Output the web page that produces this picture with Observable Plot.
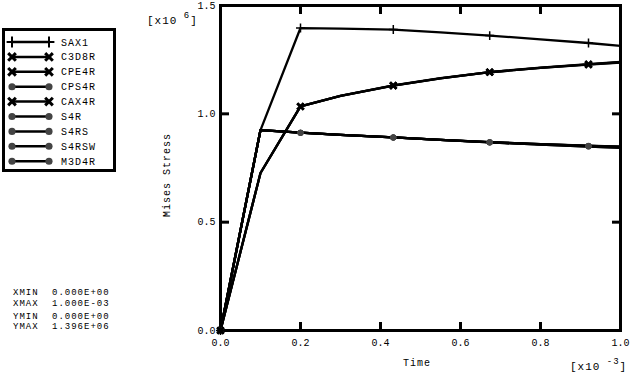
<!DOCTYPE html>
<html>
<head>
<meta charset="utf-8">
<script src="https://cdn.jsdelivr.net/npm/d3@7"></script>
<script src="https://cdn.jsdelivr.net/npm/@observablehq/plot@0.6"></script>
<style>
  html, body { margin: 0; padding: 0; background: #fff; }
  #wrap { display: flex; width: 630px; height: 373px; }
  #left { position: relative; width: 140px; height: 373px; }
  svg text { font-family: 'Liberation Mono', 'Courier New', 'DejaVu Sans Mono', monospace !important; }
</style>
</head>
<body>
<div id="wrap"><div id="left"></div><div id="chart"></div></div>
<script>
// Time values (x10^-3)
const time = [0, 0.1, 0.2, 0.3, 0.432, 0.55, 0.673, 0.8, 0.92, 1.0];
// Times where markers are shown
const markerTimes = [0, 0.2, 0.432, 0.673, 0.92];
// Mises stress (x10^6)
const SAX1  = [0, 0.925, 1.396, 1.393, 1.389, 1.376, 1.361, 1.344, 1.327, 1.314];
const C3D8R = [0, 0.727, 1.034, 1.083, 1.130, 1.164, 1.192, 1.212, 1.227, 1.237];
const CPE4R = [0, 0.727, 1.034, 1.083, 1.130, 1.164, 1.192, 1.212, 1.228, 1.238];
const CAX4R = [0, 0.727, 1.034, 1.083, 1.131, 1.165, 1.193, 1.213, 1.229, 1.240];
const CPS4R = [0, 0.925, 0.913, 0.903, 0.891, 0.880, 0.868, 0.858, 0.849, 0.843];
const S4R   = [0, 0.925, 0.913, 0.903, 0.891, 0.880, 0.869, 0.860, 0.852, 0.847];
const S4RS  = [0, 0.925, 0.913, 0.903, 0.891, 0.880, 0.869, 0.860, 0.853, 0.849];
const S4RSW = [0, 0.925, 0.913, 0.903, 0.891, 0.880, 0.869, 0.860, 0.852, 0.848];
const M3D4R = [0, 0.925, 0.913, 0.903, 0.891, 0.880, 0.868, 0.858, 0.849, 0.844];

const seriesNames = ["SAX1","C3D8R","CPE4R","CPS4R","CAX4R","S4R","S4RS","S4RSW","M3D4R"];
const seriesValues = {SAX1, C3D8R, CPE4R, CPS4R, CAX4R, S4R, S4RS, S4RSW, M3D4R};
const seriesMarker = {SAX1:"plus", C3D8R:"times", CPE4R:"times", CPS4R:"circle", CAX4R:"times",
                      S4R:"circle", S4RS:"circle", S4RSW:"circle", M3D4R:"circle"};
const xTicks = [0, 0.2, 0.4, 0.6, 0.8, 1.0];
const yTicks = [0, 0.5, 1.0, 1.5];
const stats = [["XMIN","0.000E+00"],["XMAX","1.000E-03"],["YMIN","0.000E+00"],["YMAX","1.396E+06"]];

const rows = [];
for (const s of seriesNames) time.forEach((t, i) => rows.push({series: s, t, v: seriesValues[s][i], marker: seriesMarker[s]}));
const markRows = rows.filter(d => markerTimes.includes(d.t));
const circ = markRows.filter(d => d.marker === "circle");
const tim = markRows.filter(d => d.marker === "times");
const plu = markRows.filter(d => d.marker === "plus");

const font = "'Liberation Mono', 'Courier New', monospace";
const chart = Plot.plot({
  width: 490, height: 373,
  marginLeft: 80, marginRight: 10, marginTop: 5, marginBottom: 43,
  style: {fontFamily: font, fontSize: "10px", background: "#fff", color: "#000"},
  x: {domain: [0, 1], label: null},
  y: {domain: [0, 1.5], label: null},
  marks: [
    Plot.axisX({anchor: "bottom", ticks: [0.2,0.4,0.6,0.8], tickSize: -8, text: null, strokeWidth: 3}),
    Plot.axisX({anchor: "top", ticks: [0.2,0.4,0.6,0.8], tickSize: -8, text: null, strokeWidth: 3}),
    Plot.axisY({anchor: "left", ticks: [0.5,1.0], tickSize: -9, text: null, strokeWidth: 3}),
    Plot.axisY({anchor: "right", ticks: [0.5,1.0], tickSize: -9, text: null, strokeWidth: 3}),
    Plot.axisX({anchor: "bottom", ticks: xTicks, tickSize: 0, tickPadding: 8, tickFormat: d3.format(".1f"), label: null, style: {letterSpacing: "1px"}}),
    Plot.axisY({anchor: "left", ticks: yTicks, tickSize: 0, tickPadding: 5, tickFormat: d3.format(".1f"), label: null, style: {letterSpacing: "1px"}}),
    Plot.frame({strokeWidth: 3}),
    Plot.line(rows, {x: "t", y: "v", z: "series", stroke: "#000", strokeWidth: 2.3}),
    Plot.dot(circ, {x: "t", y: "v", fill: "#444", r: 3, symbol: "circle"}),
    Plot.dot(tim, {x: "t", y: "v", stroke: "#000", strokeWidth: 2.5, r: 3, symbol: "times"}),
    Plot.dot(plu, {x: "t", y: "v", stroke: "#000", strokeWidth: 1.5, r: 3, symbol: "plus"})
  ]
});
document.getElementById("chart").appendChild(chart);

const svg = d3.select(chart);
const addText = (x, y, opts = {}) => {
  const t = svg.append("text").attr("x", x).attr("y", y).attr("font-family", font)
    .attr("font-size", opts.size || 10).attr("letter-spacing", "1px").attr("fill", "#000")
    .attr("text-anchor", opts.anchor || "start");
  if (opts.rotate) t.attr("transform", `rotate(-90 ${x} ${y})`);
  return t;
};
addText(277, 366, {anchor: "middle"}).text("Time");
addText(30, 175, {anchor: "middle", rotate: true}).text("Mises Stress");
{
  const t = addText(7, 24, {size: 11});
  t.append("tspan").text("[x10");
  t.append("tspan").attr("dy", -6).attr("font-size", 9).text(" 6");
  t.append("tspan").attr("dy", 6).text("]");
}
{
  const t = addText(430, 370, {size: 11});
  t.append("tspan").text("[x10");
  t.append("tspan").attr("dy", -6).attr("font-size", 9).text(" -3");
  t.append("tspan").attr("dy", 6).text("]");
}

// legend + stats in left column
const L = d3.select("#left").append("svg").attr("width", 140).attr("height", 373);
L.append("rect").attr("x", 3.5).attr("y", 29.5).attr("width", 111).attr("height", 141)
  .attr("fill", "#fff").attr("stroke", "#000").attr("stroke-width", 3);
seriesNames.forEach((s, i) => {
  const y = 42 + i * 14.9;
  L.append("line").attr("x1", 12).attr("x2", 49).attr("y1", y).attr("y2", y).attr("stroke", "#000").attr("stroke-width", 2.5);
  for (const x of [12, 49]) {
    const m = seriesMarker[s];
    const p = L.append("path").attr("transform", `translate(${x},${y})`);
    if (m === "circle") p.attr("d", d3.symbol(d3.symbolCircle, 40)()).attr("fill", "#444");
    else if (m === "times") p.attr("d", d3.symbol(d3.symbolTimes, 40)()).attr("fill", "none").attr("stroke", "#000").attr("stroke-width", 3);
    else p.attr("d", d3.symbol(d3.symbolPlus, 40)()).attr("fill", "none").attr("stroke", "#000").attr("stroke-width", 2);
  }
  L.append("text").attr("x", 61).attr("y", y + 3.5).attr("font-family", font).attr("font-size", 10)
    .attr("letter-spacing", "1px").text(s);
});
const statY = [295, 306, 319, 329];
stats.forEach(([k, v], i) => {
  L.append("text").attr("x", 13).attr("y", statY[i]).attr("font-family", font).attr("font-size", 9).attr("letter-spacing", "1px").text(k);
  L.append("text").attr("x", 52).attr("y", statY[i]).attr("font-family", font).attr("font-size", 9).attr("letter-spacing", "1px").text(v);
});
</script>
</body>
</html>
